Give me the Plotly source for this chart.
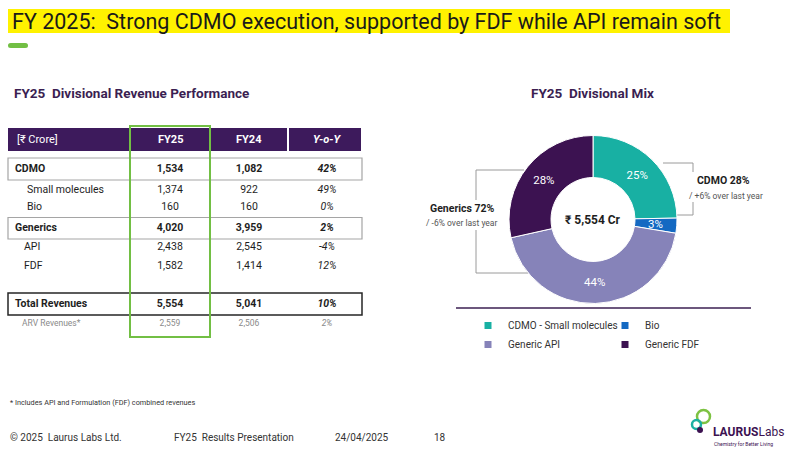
import math
import plotly.graph_objects as go

# ---- data ----
row_labels = ["CDMO", "Small molecules", "Bio", "Generics", "API", "FDF",
              "Total Revenues", "ARV Revenues*"]
fy25 = [1534, 1374, 160, 4020, 2438, 1582, 5554, 2559]
fy24 = [1082, 922, 160, 3959, 2545, 1414, 5041, 2506]
yoy = [42, 49, 0, 2, -4, 12, 10, 2]
header_labels = ["[₹ Crore]", "FY25", "FY24", "Y-o-Y"]

mix_labels = ["CDMO - Small molecules", "Bio", "Generic API", "Generic FDF"]
mix_values = [1374, 160, 2438, 1582]
mix_colors = ["#18b0a3", "#1469c2", "#8683b9", "#3c1251"]

# ---- style / layout helpers ----
PURPLE = "#3d1a5c"
FONT = "Roboto"
bold_rows = {"CDMO", "Generics", "Total Revenues"}
row_y = [169, 190.5, 207.5, 228, 247.5, 266, 304, 324]
label_x = [15, 27, 27, 15, 24, 24, 15, 22]
col_x = [170, 249, 327]

# donut geometry (pixels)
PIE_CX, PIE_CY, PIE_R = 593, 219.5, 84


def fmt(label, s):
    return f"<b>{s}</b>" if label in bold_rows else s


row_color = ["#8a8a8a" if l.startswith("ARV") else "#1e1e1e" for l in row_labels]
row_size = [8.5 if l.startswith("ARV") else 10.5 for l in row_labels]

fig = go.Figure()

# table cells
fig.add_trace(go.Scatter(
    x=label_x, y=row_y, mode="text",
    text=[fmt(l, l) for l in row_labels],
    textposition="middle right",
    textfont=dict(family=FONT, size=row_size, color=row_color),
    hoverinfo="skip", showlegend=False))
for cx, col, is_pct in [(col_x[0], fy25, False), (col_x[1], fy24, False), (col_x[2], yoy, True)]:
    if is_pct:
        txt = [fmt(l, f"<i>{v}%</i>") for l, v in zip(row_labels, col)]
    else:
        txt = [fmt(l, f"{v:,}") for l, v in zip(row_labels, col)]
    fig.add_trace(go.Scatter(
        x=[cx] * len(row_labels), y=row_y, mode="text", text=txt,
        textposition="middle center",
        textfont=dict(family=FONT, size=row_size, color=row_color),
        hoverinfo="skip", showlegend=False))

# donut
total = sum(mix_values)
small = [v / total < 0.05 for v in mix_values]
fig.add_trace(go.Pie(
    labels=mix_labels, values=mix_values, sort=False, direction="clockwise",
    hole=0.5, marker=dict(colors=mix_colors, line=dict(color="white", width=1)),
    texttemplate="%{percent:.0%}",
    textposition=["none" if s else "inside" for s in small],
    insidetextorientation="horizontal",
    textfont=dict(family=FONT, size=11.5, color="white"),
    domain=dict(x=[(PIE_CX - PIE_R) / 800, (PIE_CX + PIE_R) / 800],
                y=[1 - (PIE_CY + PIE_R) / 452, 1 - (PIE_CY - PIE_R) / 452]),
    showlegend=False, hoverinfo="label+value"))

# legend entries (dummy traces so the squares stay small), two columns
for i, (name, c) in enumerate(zip(mix_labels, mix_colors)):
    fig.add_trace(go.Scatter(x=[None], y=[None], mode="markers", name=name,
                             legend="legend" if i % 2 == 0 else "legend2",
                             marker=dict(symbol="square", size=7, color=c)))

# share numbers for the brackets
cdmo_share = (fy25[0] / fy25[6]) * 100
cdmo_prev = (fy24[0] / fy24[6]) * 100
gen_share = (fy25[3] / fy25[6]) * 100
gen_prev = (fy24[3] / fy24[6]) * 100

shapes = [
    # title highlight + green pill
    dict(type="rect", x0=8, x1=730, y0=9, y1=33, fillcolor="#fff200", line_width=0, layer="below"),
    dict(type="rect", x0=11, x1=25, y0=43, y1=48, fillcolor="#72bf44", line_width=0, layer="below"),
    dict(type="circle", x0=8, x1=13, y0=43, y1=48, fillcolor="#72bf44", line_width=0, layer="below"),
    dict(type="circle", x0=23, x1=28, y0=43, y1=48, fillcolor="#72bf44", line_width=0, layer="below"),
    # table header
    dict(type="rect", x0=8, x1=361, y0=128, y1=151, fillcolor=PURPLE, line_width=0, layer="below"),
    # row boxes
    dict(type="rect", x0=8, x1=362, y0=158, y1=180, line=dict(color="#a5a5a5", width=1.2), layer="below"),
    dict(type="rect", x0=8, x1=362, y0=217.5, y1=239, line=dict(color="#a5a5a5", width=1.2), layer="below"),
    dict(type="rect", x0=8, x1=362, y0=293, y1=315, line=dict(color="#262626", width=1.5), layer="below"),
    # FY25 highlight
    dict(type="rect", x0=130, x1=210, y0=126, y1=337, line=dict(color="#72bf44", width=2), layer="above"),
    # brackets
    dict(type="path", path="M 663,163 H 693 V 172 M 693,202 V 215 H 677",
         line=dict(color="#9a9a9a", width=1), layer="below"),
    dict(type="path", path="M 524,170 H 476 V 200 M 476,230 V 273 H 528",
         line=dict(color="#9a9a9a", width=1), layer="below"),
    # separator under donut
    dict(type="line", x0=456, x1=751, y0=308, y1=308, line=dict(color="#3b1f52", width=1.5)),
    # logo circles
    dict(type="circle", x0=697, x1=710, y0=410, y1=423, line=dict(color="#7dc242", width=2.5)),
    dict(type="circle", x0=692, x1=701, y0=420, y1=429, line=dict(color="#1bb0a3", width=2.5)),
    dict(type="circle", x0=697, x1=703, y0=427, y1=433, fillcolor="#3c1251", line_width=0),
]
for xd in [130, 210, 288]:
    shapes.append(dict(type="line", x0=xd, x1=xd, y0=128, y1=151,
                       line=dict(color="white", width=2), layer="below"))


def ann(x, y, text, size=10, color="#1e1e1e", xanchor="left", family=FONT):
    return dict(x=x, y=y, xref="x", yref="y", text=text, showarrow=False,
                xanchor=xanchor, yanchor="middle",
                font=dict(family=family, size=size, color=color))


annotations = [
    ann(10, 21, "FY 2025:  Strong CDMO execution, supported by FDF while API remain soft", size=21.5, color="#1a1a1a"),
    ann(12, 93, "<b>FY25  Divisional Revenue Performance</b>", size=13.5, color="#3b1f52"),
    ann(592, 93, "<b>FY25  Divisional Mix</b>", size=13.5, color="#3b1f52", xanchor="center"),
    ann(15, 139.5, header_labels[0], size=11, color="white"),
    ann(col_x[0], 139.5, f"<b>{header_labels[1]}</b>", size=11, color="white", xanchor="center"),
    ann(col_x[1], 139.5, f"<b>{header_labels[2]}</b>", size=11, color="white", xanchor="center"),
    ann(col_x[2], 139.5, f"<b><i>{header_labels[3]}</i></b>", size=11, color="white", xanchor="center"),
    ann(PIE_CX, PIE_CY, f"<b>₹ {total:,} Cr</b>", size=12, color="#1e1e1e", xanchor="center"),
    ann(695, 180, f"<b>CDMO {cdmo_share:.0f}%</b>", size=10.5),
    ann(687, 196, f"/ {cdmo_share - cdmo_prev:+.0f}% over last year", size=8.5, color="#555555"),
    ann(497, 208, f"<b>Generics {gen_share:.0f}%</b>", size=10.5, xanchor="right"),
    ann(499, 223, f"/ {gen_share - gen_prev:+.0f}% over last year", size=8.5, color="#555555", xanchor="right"),
    ann(8, 402, "* Includes API and Formulation (FDF) combined revenues", size=7.3, color="#333333"),
    ann(8, 437, "© 2025  Laurus Labs Ltd.", size=10, color="#333333"),
    ann(172, 437, "FY25  Results Presentation", size=10, color="#333333"),
    ann(333, 437, "24/04/2025", size=10, color="#333333"),
    ann(432, 437, "18", size=10, color="#333333"),
    ann(711, 432, "<b>LAURUS</b>Labs", size=12, color="#3c1251"),
    ann(712, 444, "Chemistry for Better Living", size=5, color="#3c1251"),
]

# label for the thin slices, placed at the slice's mid-angle
cum = 0
for v, s in zip(mix_values, small):
    if s:
        ang = math.radians((cum + v / 2) / total * 360)
        rr = PIE_R * 0.75
        annotations.append(ann(PIE_CX + rr * math.sin(ang), PIE_CY - rr * math.cos(ang),
                               f"{v / total:.0%}", size=11.5, color="white", xanchor="center"))
    cum += v

legend_style = dict(orientation="v", yanchor="top", xanchor="left", tracegroupgap=0,
                    itemsizing="trace", bgcolor="rgba(0,0,0,0)",
                    font=dict(family=FONT, size=10, color="#333333"))

fig.update_layout(
    width=800, height=452,
    margin=dict(l=0, r=0, t=0, b=0),
    paper_bgcolor="white", plot_bgcolor="white",
    xaxis=dict(range=[0, 800], visible=False, fixedrange=True),
    yaxis=dict(range=[452, 0], visible=False, fixedrange=True),
    shapes=shapes, annotations=annotations,
    showlegend=True,
    legend=dict(x=468 / 800, y=1 - 311 / 452, **legend_style),
    legend2=dict(x=605 / 800, y=1 - 311 / 452, **legend_style),
)

# the page body has a default 8px margin; drop it so the slide sits at 0,0
fig.write_html("out.html", config={"displayModeBar": False},
               post_script="document.body.style.margin='0';")
